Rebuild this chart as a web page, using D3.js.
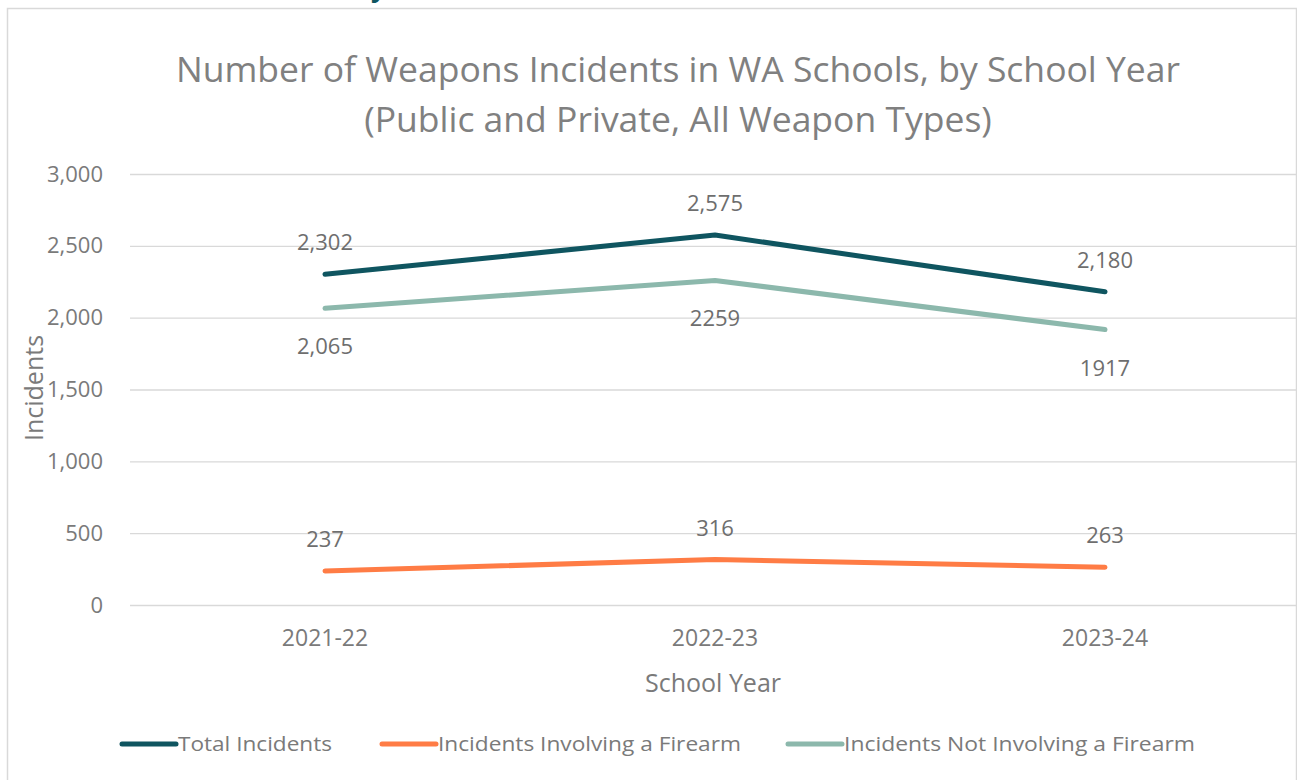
<!DOCTYPE html>
<html>
<head>
<meta charset="utf-8">
<script src="https://cdn.jsdelivr.net/npm/d3@7"></script>
<style>
  body { margin: 0; background: #fff; }
  text { font-family: "Open Sans", "Noto Sans", sans-serif; }
</style>
</head>
<body>
<svg id="chart" width="1297" height="780"></svg>
<script>
// chart data
var years = ["2021-22", "2022-23", "2023-24"];
var totalIncidents = [2302, 2575, 2180];
var firearmIncidents = [237, 316, 263];
var nonFirearmIncidents = [2065, 2259, 1917];
var totalLabels = ["2,302", "2,575", "2,180"];
var firearmLabels = ["237", "316", "263"];
var nonFirearmLabels = ["2,065", "2259", "1917"];
var yTicks = [0, 500, 1000, 1500, 2000, 2500, 3000];

function draw() {
    var svg = d3.select("#chart");

    // chart border
    svg.append("rect")
        .attr("x", 7.5).attr("y", 8.5)
        .attr("width", 1289).attr("height", 790)
        .attr("fill", "#fff")
        .attr("stroke", "#d9d9d9").attr("stroke-width", 1.5);

    // bit of heading cut off above
    svg.append("text")
        .attr("x", 371).attr("y", -3)
        .attr("font-size", 26).attr("font-weight", "bold")
        .attr("fill", "#0f5560")
        .text("y");

    var left = 130, right = 1300, top = 174, bottom = 605;

    var xScale = d3.scaleBand().domain(years).range([left, right]);
    var yScale = d3.scaleLinear().domain([0, 3000]).range([bottom, top]);

    // title
    svg.append("text")
        .attr("x", 678).attr("y", 82)
        .attr("text-anchor", "middle")
        .attr("font-size", 35.5).attr("fill", "#808080")
        .text("Number of Weapons Incidents in WA Schools, by School Year");
    svg.append("text")
        .attr("x", 678).attr("y", 132)
        .attr("text-anchor", "middle")
        .attr("font-size", 35.5).attr("fill", "#808080")
        .text("(Public and Private, All Weapon Types)");

    // gridlines + y axis
    var yAxis = svg.append("g")
        .attr("transform", "translate(" + left + ",0)")
        .call(d3.axisLeft(yScale).tickValues(yTicks)
            .tickSize(-(right - left)).tickPadding(27)
            .tickFormat(d3.format(",")));
    yAxis.select(".domain").remove();
    yAxis.selectAll(".tick line").attr("stroke", "#d9d9d9").attr("stroke-width", 1.3);
    yAxis.selectAll(".tick text")
        .attr("font-size", 22).attr("fill", "#7a7a7a")
        .attr("font-family", "Open Sans, Noto Sans, sans-serif");

    // x axis
    var xAxis = svg.append("g")
        .attr("transform", "translate(0," + bottom + ")")
        .call(d3.axisBottom(xScale).tickSize(0).tickPadding(25));
    xAxis.select(".domain").remove();
    xAxis.selectAll(".tick text")
        .attr("font-size", 23).attr("fill", "#7a7a7a")
        .attr("font-family", "Open Sans, Noto Sans, sans-serif");

    // axis titles
    svg.append("text")
        .attr("x", 713).attr("y", 692)
        .attr("text-anchor", "middle")
        .attr("font-size", 25).attr("fill", "#7a7a7a")
        .text("School Year");
    svg.append("text")
        .attr("transform", "translate(43,388) rotate(-90)")
        .attr("text-anchor", "middle")
        .attr("font-size", 25).attr("fill", "#7a7a7a")
        .text("Incidents");

    var series = [
        { name: "Total Incidents", values: totalIncidents, labels: totalLabels, color: "#0f5560", dy: -24 },
        { name: "Incidents Involving a Firearm", values: firearmIncidents, labels: firearmLabels, color: "#ff7c45", dy: -24 },
        { name: "Incidents Not Involving a Firearm", values: nonFirearmIncidents, labels: nonFirearmLabels, color: "#8cb8ac", dy: 46 }
    ];

    var line = d3.line()
        .x(function(d, i) { return xScale(years[i]) + xScale.bandwidth() / 2; })
        .y(function(d) { return yScale(d); });

    series.forEach(function(s) {
        svg.append("path")
            .attr("d", line(s.values))
            .attr("fill", "none")
            .attr("stroke", s.color)
            .attr("stroke-width", 5)
            .attr("stroke-linecap", "round")
            .attr("stroke-linejoin", "round");

        svg.selectAll(null)
            .data(s.values)
            .enter().append("text")
            .attr("x", function(d, i) { return xScale(years[i]) + xScale.bandwidth() / 2; })
            .attr("y", function(d) { return yScale(d) + s.dy; })
            .attr("text-anchor", "middle")
            .attr("font-size", 22).attr("fill", "#6e6e6e")
            .text(function(d, i) { return s.labels[i]; });
    });

    // legend
    var legendX = [120, 380, 786];
    series.forEach(function(s, i) {
        var g = svg.append("g").attr("transform", "translate(" + legendX[i] + ",744)");
        g.append("line")
            .attr("x1", 2).attr("x2", 56)
            .attr("stroke", s.color).attr("stroke-width", 5)
            .attr("stroke-linecap", "round");
        g.append("text")
            .attr("x", 58).attr("y", 7)
            .attr("font-size", 20).attr("fill", "#7a7a7a")
            .attr("textLength", i == 0 ? 154 : (i == 1 ? 303 : 351))
            .attr("lengthAdjust", "spacingAndGlyphs")
            .text(s.name);
    });
}

draw();
</script>
</body>
</html>
